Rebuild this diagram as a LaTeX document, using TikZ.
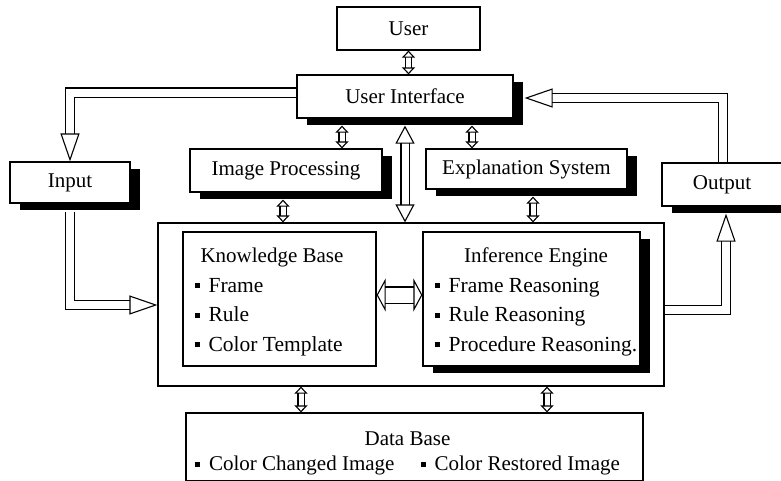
\documentclass[tikz,border=0pt]{standalone}
\usepackage{fontspec}
\setmainfont{Liberation Serif}
\usetikzlibrary{shadows}
\usetikzlibrary{arrows.meta}
\usetikzlibrary{calc}

\newcommand{\sq}{\rule[4pt]{5pt}{5pt}\hspace{9pt}}

\tikzset{
  box/.style={draw, line width=1.2pt, fill=white, inner sep=0pt},
  shadowbox/.style={box, drop shadow={shadow xshift=10pt, shadow yshift=-7pt, fill=black, opacity=1}},
  txt/.style={font=\fontsize{21}{25}\selectfont},
  items/.style={font=\fontsize{21.5}{24}\selectfont},
  updown/.style={double, double distance=5pt, line width=1.1pt,
    arrows={Triangle[open,length=7pt,width=13pt]-Triangle[open,length=7pt,width=13pt]}},
  tall/.style={double, double distance=7pt, line width=1.1pt,
    arrows={Triangle[open,length=18pt,width=19pt]-Triangle[open,length=18pt,width=19pt]}},
  flow/.style={double, double distance=8pt, line width=1.1pt,
    arrows={-Triangle[open,length=28pt,width=19pt]}},
  fat/.style={double, double distance=15pt, line width=1.1pt,
    arrows={Triangle[open,length=9pt,width=33pt]-Triangle[open,length=9pt,width=33pt]}}
}

\begin{document}
\begin{tikzpicture}[x=1pt, y=-1pt]

    \useasboundingbox (0,0) rectangle (781,480);

    % boxes
    \node[box, txt, minimum width=143pt, minimum height=43pt] (user) at (408.5,28.5) {User};
    \node[shadowbox, txt, minimum width=216pt, minimum height=43pt] (ui) at (405,96.5) {User Interface};
    \node[shadowbox, txt, minimum width=120pt, minimum height=41pt] (input) at (70,182.5) {Input};
    \node[shadowbox, txt, minimum width=192pt, minimum height=43pt] (imgproc) at (286,170.5) {Image Processing};
    \node[shadowbox, txt, minimum width=201pt, minimum height=40pt] (explain) at (526.5,169) {Explanation System};
    \node[shadowbox, txt, minimum width=120pt, minimum height=43pt] (output) at (722,184.5) {Output};
    \node[draw, line width=1.2pt, minimum width=506pt, minimum height=163pt] (big) at (411,304.5) {};
    \node[box, minimum width=193pt, minimum height=134pt] (kb) at (279.5,299) {};
    \node[shadowbox, minimum width=217pt, minimum height=134pt] (ie) at (531.5,299) {};
    \node[box, minimum width=457pt, minimum height=68pt] (db) at (414.5,447) {};

    % texts inside the boxes
    \renewcommand{\arraystretch}{1.23}
    \node[items] (kbtext) at (272,301) {\begin{tabular}{@{}l@{}}
        \multicolumn{1}{c}{\fontsize{21}{25}\selectfont Knowledge Base}\\
        \sq Frame\\ \sq Rule\\ \sq Color Template
      \end{tabular}};
    \node[items] (ietext) at (536,301) {\begin{tabular}{@{}l@{}}
        \multicolumn{1}{c}{\fontsize{21}{25}\selectfont Inference Engine}\\
        \sq Frame Reasoning\\ \sq Rule Reasoning\\ \sq Procedure Reasoning.
      \end{tabular}};
    \node[txt, align=center] (dbtext) at (407.5,453.5) {Data Base\\[0pt]
        \sq Color Changed Image\hspace{26pt}\sq Color Restored Image};

    % short links
    \draw[updown] (user.south) -- (user.south |- ui.north);
    \draw[updown] ($(ui.south -| 342,0)+(0,7)$) -- (imgproc.north -| 342,0);
    \draw[updown] ($(ui.south -| 472,0)+(0,7)$) -- (explain.north -| 472,0);
    \draw[updown] ($(imgproc.south -| 283,0)+(0,7)$) -- (big.north -| 283,0);
    \draw[updown] ($(explain.south -| 533,0)+(0,7)$) -- (big.north -| 533,0);
    \draw[updown] (big.south -| 301,0) -- (db.north -| 301,0);
    \draw[updown] (big.south -| 547,0) -- (db.north -| 547,0);
    \draw[tall] ($(ui.south)+(0,7)$) -- (ui.south |- big.north);
    \draw[fat] (kb.east |- 0,295) -- (ie.west |- 0,295);

    % flows
    \draw[flow] (ui.west |- 0,92.5) -| (input.north);
    \draw[flow] ($(input.south)+(0,8)$) |- (big.west |- 0,305);
    \draw[flow] (output.north -| 723,0) |- ($(ui.east |- 0,98)+(11,0)$);
    \draw[flow] (big.east |- 0,310) -| ($(output.south -| 726,0)+(0,7)$);

\end{tikzpicture}
\end{document}
